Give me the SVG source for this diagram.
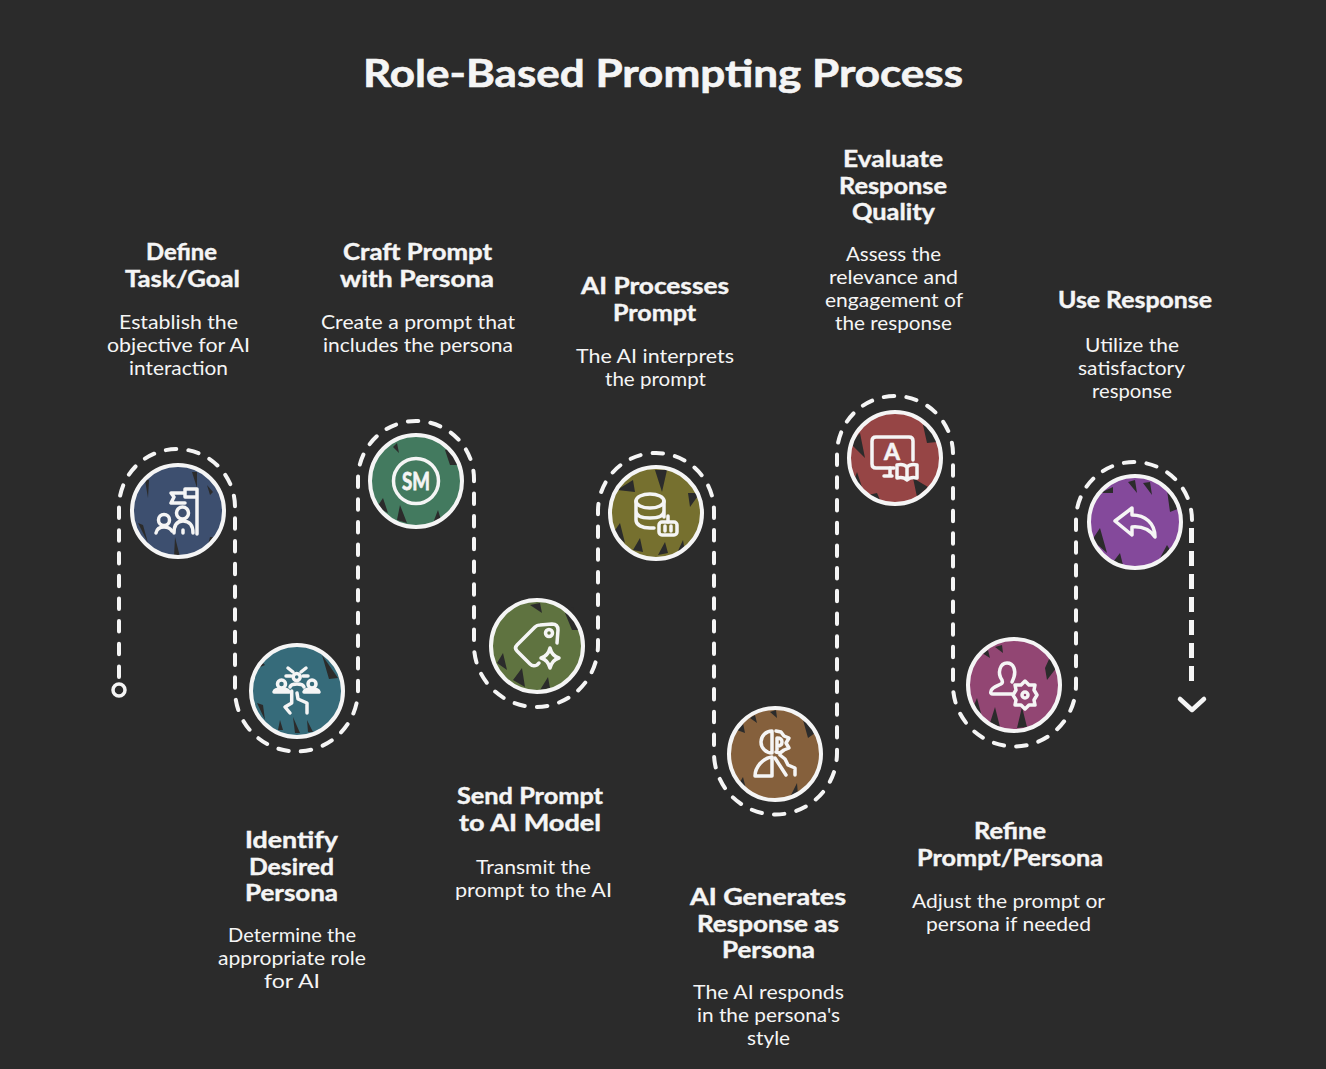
<svg xmlns="http://www.w3.org/2000/svg" width="1326" height="1069" viewBox="0 0 1326 1069">
<defs>
<style>
text{font-family:"Lato","Open Sans",sans-serif;fill:#f5f5f5;text-anchor:middle}
.h{font-size:22px;font-weight:700;stroke:#f5f5f5;stroke-width:.4}
.d{font-size:19px;font-weight:400}
.ring{stroke:#f5f5f5;stroke-width:4}
.notch{fill:#2b2b2b}
.ic{fill:none;stroke:#f5f5f5;stroke-width:3.5;stroke-linecap:round;stroke-linejoin:round}
.path{fill:none;stroke:#f5f5f5;stroke-width:4;stroke-linecap:round;stroke-dasharray:10.500 12.200}
</style>
</defs>
<rect width="1326" height="1069" fill="#2b2b2b"/>
<text x="663" y="87" font-size="38" font-weight="700" stroke="#f5f5f5" stroke-width=".6" textLength="600" lengthAdjust="spacingAndGlyphs">Role-Based Prompting Process</text>

<g id="connectors">
<path class="path" d="M119 677V507A58 58 0 0 1 235 507V690A61.500 61.500 0 0 0 358 690V479A58 58 0 0 1 474 479V645A62 62 0 0 0 598 645V511A58 58 0 0 1 714 511V753A61.500 61.500 0 0 0 837 753V454A58 58 0 0 1 953 454V685A61.500 61.500 0 0 0 1076 685V520A58 58 0 0 1 1192 520"/>
<path class="path" style="stroke-width:5;stroke-linecap:butt;stroke-dasharray:15 8" d="M1191.500 528V688"/>
<circle cx="119" cy="690" r="6" fill="none" stroke="#f5f5f5" stroke-width="3.500"/>
<path d="M1180 699L1192 710L1204 699" fill="none" stroke="#f5f5f5" stroke-width="4.500" stroke-linecap="round" stroke-linejoin="round"/>
</g>

<g id="node-1">
<circle cx="178" cy="511" r="45" fill="#3d4f6f"/>
<path class="notch" d="M145 480L149 480L148 498ZM192 472L197 472L197 488ZM207 485L213 492L210 495ZM143 525L138 523L148 543ZM175 537L174 557L180 557ZM210 537L215 537L208 545Z"/>
<circle class="ring" cx="178" cy="511" r="46" fill="none"/>
<path class="ic" d="M197 534V489H185V497H197M185 493H171L174 497L171 503H185"/>
<circle class="ic" cx="182.500" cy="513" r="6"/><path class="ic" d="M174 533C174 524 178 521 183 521C189 521 193 525 193 533M183 530V533"/>
<circle class="ic" cx="164" cy="520" r="5.500"/><path class="ic" d="M156 533C157 528 160 527 164 527C167 527 170 528 172 531"/>
<text class="h" x="181.500" y="260" textLength="71" lengthAdjust="spacingAndGlyphs">Define</text>
<text class="h" x="182.500" y="287" textLength="115" lengthAdjust="spacingAndGlyphs">Task/Goal</text>
<text class="d" x="178.500" y="329" textLength="119" lengthAdjust="spacingAndGlyphs">Establish the</text>
<text class="d" x="178.500" y="352" textLength="143" lengthAdjust="spacingAndGlyphs">objective for AI</text>
<text class="d" x="178.500" y="374.500" textLength="99" lengthAdjust="spacingAndGlyphs">interaction</text>
</g>

<g id="node-2">
<circle cx="297" cy="691" r="45" fill="#366b7a"/>
<path class="notch" d="M322 655L338 678L329 679ZM257 703L263 705L265 720ZM280 720L278 730L283 730ZM293 717L295 733L300 733ZM307 720L308 732L313 732ZM263 663L258 668L265 665Z"/>
<circle class="ring" cx="297" cy="691" r="46" fill="none"/>
<g class="ic">
<circle cx="296.700" cy="677" r="3.500"/><path d="M288 668L293 672M306 668L301 672M286 676H291M303 676H308M290 687C291 683 303 683 304 687"/>
<circle cx="281.500" cy="684" r="4"/><path d="M274 692C275 689 278 689 281 689C285 689 288 689 289 692Z"/>
<circle cx="312" cy="684" r="4"/><path d="M304 692C305 689 308 689 312 689C315 689 318 689 319 692Z"/>
<path d="M291.700 691V703L285 707L290 713M297 693L298 699L307 703V713"/>
</g>
<text class="h" x="291.500" y="848" textLength="93" lengthAdjust="spacingAndGlyphs">Identify</text>
<text class="h" x="291.500" y="875" textLength="85" lengthAdjust="spacingAndGlyphs">Desired</text>
<text class="h" x="291.500" y="901" textLength="93" lengthAdjust="spacingAndGlyphs">Persona</text>
<text class="d" x="292" y="942" textLength="128" lengthAdjust="spacingAndGlyphs">Determine the</text>
<text class="d" x="292" y="965" textLength="148" lengthAdjust="spacingAndGlyphs">appropriate role</text>
<text class="d" x="292" y="987.500" textLength="56" lengthAdjust="spacingAndGlyphs">for AI</text>
</g>

<g id="node-3">
<circle cx="416" cy="481" r="45" fill="#437a5f"/>
<path class="notch" d="M445 450L450 465L458 465L453 447ZM397 443L399 453L393 447ZM383 498L388 513L377 507ZM400 505L407 523L397 520ZM438 510L441 520L433 523Z"/>
<circle class="ring" cx="416" cy="481" r="46" fill="none"/>
<circle class="ic" cx="416" cy="481" r="22.500"/>
<text x="416" y="490" font-size="25" font-weight="700" stroke="#f5f5f5" stroke-width=".8" textLength="28" lengthAdjust="spacingAndGlyphs">SM</text>
<text class="h" x="417.500" y="260" textLength="149" lengthAdjust="spacingAndGlyphs">Craft Prompt</text>
<text class="h" x="417" y="287" textLength="154" lengthAdjust="spacingAndGlyphs">with Persona</text>
<text class="d" x="418" y="329" textLength="194" lengthAdjust="spacingAndGlyphs">Create a prompt that</text>
<text class="d" x="418" y="351.500" textLength="190" lengthAdjust="spacingAndGlyphs">includes the persona</text>
</g>

<g id="node-4">
<circle cx="537" cy="646" r="45" fill="#5f7340"/>
<path class="notch" d="M565 613L572 630L580 630L573 607ZM503 653L507 670L497 663ZM522 668L525 687L513 680ZM548 677L550 688L540 690ZM540 603L542 613L530 605Z"/>
<circle class="ring" cx="537" cy="646" r="46" fill="none"/>
<path class="ic" d="M557 643L558 630Q558 624 552 624L540 625Q537 625 535 627L517 645Q514 648 517 651L530 664Q533 667 537 665L539 663"/>
<circle class="ic" cx="549" cy="633" r="3.500"/>
<path class="ic" d="M550 648Q552 656 559 658Q552 660 550 668Q548 660 541 658Q548 656 550 648Z"/>
<text class="h" x="530" y="804" textLength="146" lengthAdjust="spacingAndGlyphs">Send Prompt</text>
<text class="h" x="530" y="831" textLength="142" lengthAdjust="spacingAndGlyphs">to AI Model</text>
<text class="d" x="533.500" y="873.500" textLength="115" lengthAdjust="spacingAndGlyphs">Transmit the</text>
<text class="d" x="533.500" y="896.500" textLength="157" lengthAdjust="spacingAndGlyphs">prompt to the AI</text>
</g>

<g id="node-5">
<circle cx="656" cy="513" r="45" fill="#76702f"/>
<path class="notch" d="M655 470L662 492L667 470ZM688 493L690 507L700 493ZM633 480L635 492L617 490ZM620 523L625 543L613 533ZM640 538L643 552L633 550ZM665 542L668 553L658 555ZM683 540L685 552L677 553Z"/>
<circle class="ring" cx="656" cy="513" r="46" fill="none"/>
<g class="ic">
<ellipse cx="650" cy="501" rx="14" ry="7"/>
<path d="M636 501V520C636 525 642 528 650 528H654M664 501V517M636 511C636 516 642 518 650 518C658 518 664 516 664 511"/>
<rect x="659" y="522" width="18" height="13" rx="3"/>
<path d="M668 516V522M665 526V531M671 526V531"/>
</g>
<text class="h" x="655" y="294" textLength="148" lengthAdjust="spacingAndGlyphs">AI Processes</text>
<text class="h" x="654.500" y="321" textLength="83" lengthAdjust="spacingAndGlyphs">Prompt</text>
<text class="d" x="655" y="362.500" textLength="158" lengthAdjust="spacingAndGlyphs">The AI interprets</text>
<text class="d" x="655.500" y="385.500" textLength="101" lengthAdjust="spacingAndGlyphs">the prompt</text>
</g>

<g id="node-6">
<circle cx="775" cy="754" r="45" fill="#85603c"/>
<path class="notch" d="M803 720L808 738L815 733L807 715ZM743 723L745 733L737 730ZM755 715L757 723L750 718ZM776 710L777 718L770 712ZM743 777L747 793L737 787ZM797 783L798 795L790 797Z"/>
<circle class="ring" cx="775" cy="754" r="46" fill="none"/>
<g class="ic">
<path d="M772 731A11 11 0 0 0 772 753ZM772 757V776H755C755 767 763 758 772 757"/>
<path d="M776 731L781 732L784 736L789 738L786 743L789 748L784 750L780 753L776 752M777 738C781 738 782 740 782 742C782 745 780 746 777 746M777 738V750"/>
<path d="M775 758L786 775M780 755L785 759L788 765L795 768L795 775"/>
</g>
<text class="h" x="768" y="905" textLength="156" lengthAdjust="spacingAndGlyphs">AI Generates</text>
<text class="h" x="768" y="932" textLength="142" lengthAdjust="spacingAndGlyphs">Response as</text>
<text class="h" x="768.500" y="958" textLength="93" lengthAdjust="spacingAndGlyphs">Persona</text>
<text class="d" x="768.500" y="998.500" textLength="151" lengthAdjust="spacingAndGlyphs">The AI responds</text>
<text class="d" x="768.500" y="1021.500" textLength="143" lengthAdjust="spacingAndGlyphs">in the persona's</text>
<text class="d" x="768.500" y="1044.500" textLength="43" lengthAdjust="spacingAndGlyphs">style</text>
</g>

<g id="node-7">
<circle cx="895" cy="458" r="45" fill="#964545"/>
<path class="notch" d="M923 425L927 443L937 442L930 417ZM860 433L865 458L850 443ZM857 472L863 490L852 487ZM913 478L917 497L928 487ZM877 493L880 500L868 495Z"/>
<circle class="ring" cx="895" cy="458" r="46" fill="none"/>
<g class="ic">
<path d="M894 468H876Q872 468 872 464V441Q872 437 876 437H909Q913 437 913 441V460"/>
<path d="M890 468V476M884 476H892"/>
<path d="M907 467C904 464 901 464 897 465V478C901 477 904 477 907 480C910 477 913 477 917 478V465C913 464 910 464 907 467ZM907 467V480"/>
</g>
<text x="892" y="460" font-size="23" font-weight="700" stroke="#f5f5f5" stroke-width=".6">A</text>
<text class="h" x="893" y="167" textLength="100" lengthAdjust="spacingAndGlyphs">Evaluate</text>
<text class="h" x="893" y="194" textLength="108" lengthAdjust="spacingAndGlyphs">Response</text>
<text class="h" x="893.500" y="220" textLength="83" lengthAdjust="spacingAndGlyphs">Quality</text>
<text class="d" x="893.500" y="261" textLength="95" lengthAdjust="spacingAndGlyphs">Assess the</text>
<text class="d" x="893.500" y="283.500" textLength="129" lengthAdjust="spacingAndGlyphs">relevance and</text>
<text class="d" x="894" y="306.500" textLength="138" lengthAdjust="spacingAndGlyphs">engagement of</text>
<text class="d" x="893.500" y="329.500" textLength="117" lengthAdjust="spacingAndGlyphs">the response</text>
</g>

<g id="node-8">
<circle cx="1014" cy="685" r="45" fill="#924673"/>
<path class="notch" d="M1045 668L1047 680L1057 667L1050 657ZM1002 645L1003 653L995 647ZM988 650L990 658L982 653ZM977 698L982 717L972 710ZM995 707L1000 727L990 723ZM1022 707L1027 727L1017 728Z"/>
<circle class="ring" cx="1014" cy="685" r="46" fill="none"/>
<g class="ic">
<path d="M1012 694H993Q990 694 991 691C992 687 997 686 1001 684Q1003 683 1002 680C997 673 1000 663 1007 663C1014 663 1016 671 1014 677Q1013 680 1012 682"/>
<path d="M1025 681L1029 685L1035 685L1034 690L1037 695L1034 700L1035 705L1029 705L1025 709L1021 705L1015 705L1016 700L1013 695L1016 690L1015 685L1021 685Z"/>
<circle cx="1025" cy="695" r="3"/>
</g>
<text class="h" x="1010" y="839" textLength="72" lengthAdjust="spacingAndGlyphs">Refine</text>
<text class="h" x="1010" y="866" textLength="186" lengthAdjust="spacingAndGlyphs">Prompt/Persona</text>
<text class="d" x="1008.500" y="908" textLength="193" lengthAdjust="spacingAndGlyphs">Adjust the prompt or</text>
<text class="d" x="1008.500" y="930.500" textLength="165" lengthAdjust="spacingAndGlyphs">persona if needed</text>
</g>

<g id="node-9">
<circle cx="1135" cy="522" r="45" fill="#84499b"/>
<path class="notch" d="M1167 490L1170 512L1180 508L1173 487ZM1135 480L1137 493L1128 482ZM1150 482L1152 495L1143 483ZM1113 487L1113 493L1100 493ZM1100 528L1107 553L1092 540ZM1120 553L1123 565L1113 562ZM1167 545L1172 553L1160 558Z"/>
<circle class="ring" cx="1135" cy="522" r="46" fill="none"/>
<path class="ic" d="M1132 508L1115 521L1132 535V527C1143 526 1150 530 1155 537C1155 523 1145 515 1132 515Z"/>
<text class="h" x="1135" y="308" textLength="154" lengthAdjust="spacingAndGlyphs">Use Response</text>
<text class="d" x="1132" y="352" textLength="94" lengthAdjust="spacingAndGlyphs">Utilize the</text>
<text class="d" x="1131.500" y="375" textLength="107" lengthAdjust="spacingAndGlyphs">satisfactory</text>
<text class="d" x="1132" y="397.500" textLength="80" lengthAdjust="spacingAndGlyphs">response</text>
</g>
</svg>
